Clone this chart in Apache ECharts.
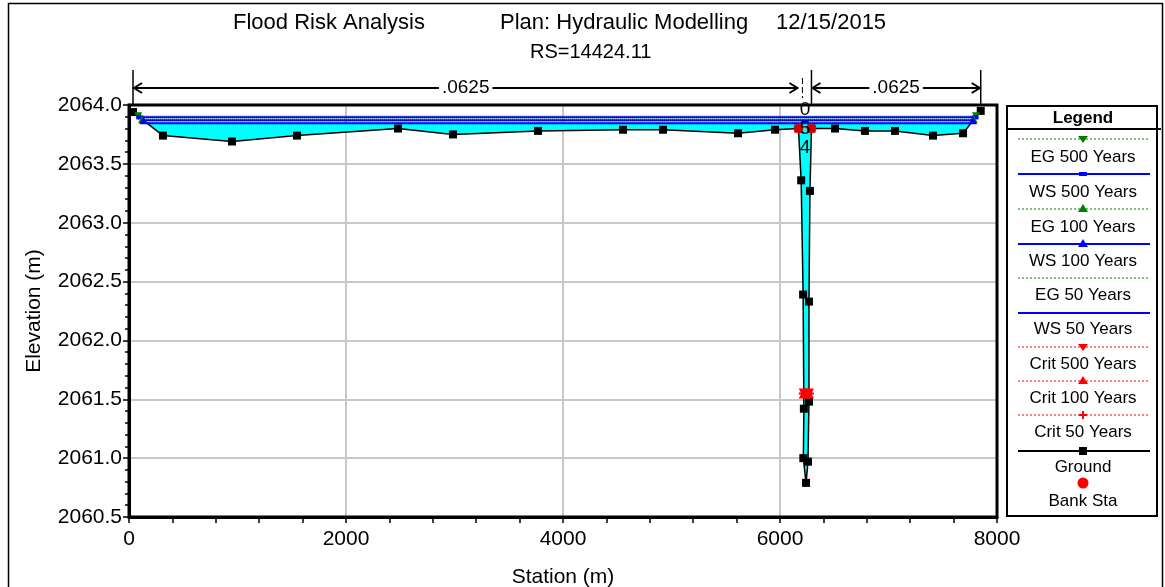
<!DOCTYPE html>
<html><head><meta charset="utf-8">
<script src="https://cdn.jsdelivr.net/npm/echarts@6/dist/echarts.min.js"></script>
<style>html,body{margin:0;padding:0;background:#fff}#c{width:1165px;height:587px}</style>
</head><body><div id="c"></div>
<script>
// ---- data ----
const xTicks = [0, 2000, 4000, 6000, 8000];
const yTicks = [2060.5, 2061.0, 2061.5, 2062.0, 2062.5, 2063.0, 2063.5, 2064.0];
const groundSta  = [37, 313, 949, 1548, 2479, 2986, 3770, 4553, 4922, 5613, 5954, 6170, 6195, 6213, 6220, 6215, 6240, 6258, 6267, 6267, 6276, 6290, 6507, 6783, 7060, 7410, 7687, 7850];
const groundElev = [2063.94, 2063.74, 2063.69, 2063.74, 2063.80, 2063.75, 2063.78, 2063.79, 2063.79, 2063.76, 2063.79, 2063.80, 2063.36, 2062.39, 2061.42, 2061.00, 2060.79, 2060.97, 2061.48, 2062.33, 2063.27, 2063.80, 2063.80, 2063.78, 2063.78, 2063.74, 2063.76, 2063.95];
const bankSta = [6170, 6290];
const bankElev = [2063.80, 2063.80];
const profileNames = ['EG 500 Years', 'WS 500 Years', 'EG 100 Years', 'WS 100 Years', 'EG 50 Years', 'WS 50 Years'];
const profileElev  = [2063.905, 2063.895, 2063.880, 2063.870, 2063.855, 2063.845];
const profileLeft  = [85, 99, 120, 134, 155, 168];
const profileRight = [7806, 7798, 7786, 7778, 7765, 7757];
const critNames = ['Crit 500 Years', 'Crit 100 Years', 'Crit 50 Years'];
const critElev  = [2061.55, 2061.55, 2061.55];
const critLeft  = [6219, 6219, 6219];
const critRight = [6267, 6267, 6267];
const nValues = ['.0625', '.0625'];
const legendNames = ['EG 500 Years', 'WS 500 Years', 'EG 100 Years', 'WS 100 Years', 'EG 50 Years', 'WS 50 Years', 'Crit 500 Years', 'Crit 100 Years', 'Crit 50 Years', 'Ground', 'Bank Sta'];

const FONT = 'Liberation Sans, Arial, sans-serif';
const PLUS = 'path://M4 0H6V4H10V6H6V10H4V6H0V4H4Z';
const green = '#008000', blue = '#0000FF', red = '#FF0000';
const profStyle = [
  {color: green, type: 'dotted', width: 1, symbol: 'triangle', rot: 180},
  {color: blue, type: 'solid', width: 2, symbol: 'rect', rot: 0},
  {color: green, type: 'dotted', width: 1, symbol: 'triangle', rot: 0},
  {color: blue, type: 'solid', width: 2, symbol: 'triangle', rot: 0},
  {color: green, type: 'dotted', width: 1, symbol: 'none', rot: 0},
  {color: blue, type: 'solid', width: 2, symbol: 'none', rot: 0}
];
const critStyle = [
  {symbol: 'triangle', rot: 180}, {symbol: 'triangle', rot: 0}, {symbol: PLUS, rot: 0}
];

const chart = echarts.init(document.getElementById('c'));
const series = [];

// water fill (under lowest water surface)
const fillIdx = profileElev.length - 1;
series.push({
  type: 'custom', name: 'fill', z: 1, clip: true, silent: true,
  data: [[0, 0]],
  renderItem: function (params, api) {
    const e = profileElev[fillIdx];
    const pts = [api.coord([profileLeft[fillIdx], e])];
    for (let i = 1; i < groundSta.length - 1; i++) pts.push(api.coord([groundSta[i], groundElev[i]]));
    pts.push(api.coord([profileRight[fillIdx], e]));
    return {type: 'polygon', shape: {points: pts}, style: {fill: '#00FFFF', stroke: null}};
  }
});

// ground
series.push({
  type: 'line', name: 'Ground', z: 5,
  data: groundSta.map((s, i) => [s, groundElev[i]]),
  lineStyle: {color: '#000', width: 1.5},
  itemStyle: {color: '#000'},
  symbol: 'rect', symbolSize: 8, showAllSymbol: true, animation: false
});

// water surfaces / energy grades
profileNames.forEach((n, i) => {
  const st = profStyle[i];
  series.push({
    type: 'line', name: n, z: 6,
    data: [[profileLeft[i], profileElev[i]], [profileRight[i], profileElev[i]]],
    lineStyle: {color: st.color, width: st.width, type: st.type},
    itemStyle: {color: st.color},
    symbol: st.symbol, symbolSize: st.symbol === 'rect' ? [7, 4] : 8, symbolRotate: st.rot,
    showAllSymbol: true, animation: false
  });
});

// critical depth
critNames.forEach((n, i) => {
  const st = critStyle[i];
  series.push({
    type: 'line', name: n, z: 7,
    data: [[critLeft[i], critElev[i]], [critRight[i], critElev[i]]],
    lineStyle: {color: red, width: 1, type: 'dotted'},
    itemStyle: {color: red},
    symbol: st.symbol, symbolSize: 10, symbolRotate: st.rot,
    showAllSymbol: true, animation: false
  });
});

// bank stations
series.push({
  type: 'scatter', name: 'Bank Sta', z: 8,
  data: bankSta.map((s, i) => [s, bankElev[i]]),
  symbol: 'circle', symbolSize: 10, itemStyle: {color: red}, animation: false
});

const AX_FONT = 21;
chart.setOption({
  animation: false,
  grid: {left: 129, right: 168, top: 105, bottom: 70, show: false, containLabel: false, outerBoundsMode: 'none'},
  xAxis: {
    type: 'value', min: xTicks[0], max: xTicks[xTicks.length - 1], interval: 2000,
    name: 'Station (m)', nameLocation: 'middle', nameGap: 50,
    nameTextStyle: {fontFamily: FONT, fontSize: 21, color: '#000'},
    axisLine: {show: true, onZero: false, lineStyle: {color: '#000', width: 3}},
    axisTick: {show: true, length: 6, lineStyle: {color: '#000', width: 1.5}},
    minorTick: {show: true, splitNumber: 5, length: 6, lineStyle: {color: '#000', width: 1.5}},
    axisLabel: {fontFamily: FONT, fontSize: AX_FONT, color: '#000', margin: 12, formatter: v => String(v)},
    splitLine: {show: true, lineStyle: {color: '#c8c8c8', width: 2}}
  },
  yAxis: {
    type: 'value', min: yTicks[0], max: yTicks[yTicks.length - 1], interval: 0.5,
    name: 'Elevation (m)', nameLocation: 'middle', nameGap: 84, nameRotate: 90,
    nameTextStyle: {fontFamily: FONT, fontSize: 21, color: '#000'},
    axisLine: {show: true, onZero: false, lineStyle: {color: '#000', width: 3}},
    axisTick: {show: true, length: 6, lineStyle: {color: '#000', width: 1.5}},
    minorTick: {show: true, splitNumber: 5, length: 4, lineStyle: {color: '#000', width: 1.5}},
    axisLabel: {fontFamily: FONT, fontSize: AX_FONT, color: '#000', margin: 7, formatter: v => v.toFixed(1)},
    splitLine: {show: true, lineStyle: {color: '#c8c8c8', width: 2}}
  },
  series: series
});

// ---- annotations (frame, n-value bar, titles, legend) ----
const px = (s) => chart.convertToPixel({xAxisIndex: 0}, s);
const py = (e) => chart.convertToPixel({yAxisIndex: 0}, e);
const g = [];
// outer frame
g.push({type: 'rect', shape: {x: 8.5, y: 3.5, width: 1154, height: 600}, style: {fill: null, stroke: '#000', lineWidth: 1.5}, z: 0});
// plot frame
const fx0 = px(xTicks[0]), fx1 = px(xTicks[xTicks.length - 1]);
const fy0 = py(yTicks[yTicks.length - 1]), fy1 = py(yTicks[0]);
g.push({type: 'rect', shape: {x: fx0, y: fy0, width: fx1 - fx0, height: fy1 - fy0}, style: {fill: null, stroke: '#000', lineWidth: 3}, z: 50});
// titles
g.push({type: 'text', left: 233, top: 12, style: {text: 'Flood Risk Analysis', font: '22px ' + FONT, fill: '#000'}});
g.push({type: 'text', left: 500, top: 12, style: {text: 'Plan: Hydraulic Modelling', font: '22px ' + FONT, fill: '#000'}});
g.push({type: 'text', left: 776, top: 12, style: {text: '12/15/2015', font: '22px ' + FONT, fill: '#000'}});
g.push({type: 'text', left: 530, top: 42, style: {text: 'RS=14424.11', font: '20px ' + FONT, fill: '#000'}});

const xL = px(groundSta[0]), xLB = px(bankSta[0]), xRB = px(bankSta[1]), xR = px(groundSta[groundSta.length - 1]);
const yA = 88;
function arrowSeg(x1, x2, label) {
  g.push({type: 'line', shape: {x1: x1 + 2, y1: yA, x2: x2 - 2, y2: yA}, style: {stroke: '#000', lineWidth: 2}, z: 10});
  g.push({type: 'polyline', shape: {points: [[x1 + 9, yA - 5], [x1 + 1, yA], [x1 + 9, yA + 5]]}, style: {stroke: '#000', lineWidth: 2, fill: null}, z: 10});
  g.push({type: 'polyline', shape: {points: [[x2 - 9, yA - 5], [x2 - 1, yA], [x2 - 9, yA + 5]]}, style: {stroke: '#000', lineWidth: 2, fill: null}, z: 10});
  g.push({type: 'text', x: (x1 + x2) / 2, y: yA, style: {text: label, font: '19px ' + FONT, fill: '#000', align: 'center', verticalAlign: 'middle', backgroundColor: '#fff', padding: [0, 3]}, z: 11});
}
arrowSeg(xL, xLB, nValues[0]);
arrowSeg(xRB, xR, nValues[1]);
g.push({type: 'line', shape: {x1: xL, y1: 70, x2: xL, y2: 105}, style: {stroke: '#000', lineWidth: 1.5}});
g.push({type: 'line', shape: {x1: xR, y1: 70, x2: xR, y2: 105}, style: {stroke: '#000', lineWidth: 1.5}});
g.push({type: 'line', shape: {x1: xRB, y1: 70, x2: xRB, y2: 105}, style: {stroke: '#000', lineWidth: 1.5}});
g.push({type: 'line', shape: {x1: xLB + 4, y1: 78, x2: xLB + 4, y2: 98}, style: {stroke: '#000', lineWidth: 1, lineDash: [6, 3]}});
// profile labels inside channel
const chX = (xLB + xRB) / 2;
g.push({type: 'text', x: chX, y: 110, style: {text: '0', font: '19px ' + FONT, fill: '#000', align: 'center', verticalAlign: 'middle'}, z: 60});
g.push({type: 'text', x: chX, y: 129, style: {text: '5', font: '19px ' + FONT, fill: '#000', align: 'center', verticalAlign: 'middle'}, z: 60});
g.push({type: 'text', x: chX, y: 148, style: {text: '4', font: '19px ' + FONT, fill: '#000', align: 'center', verticalAlign: 'middle'}, z: 60});

// legend box
const LX0 = 1007, LX1 = 1157, LCX = 1083;
g.push({type: 'rect', shape: {x: LX0, y: 106, width: LX1 - LX0, height: 410}, style: {fill: '#fff', stroke: '#000', lineWidth: 2}, z: 30});
g.push({type: 'line', shape: {x1: LX0, y1: 129, x2: 1161, y2: 129}, style: {stroke: '#000', lineWidth: 2}, z: 31});
g.push({type: 'text', x: LCX, y: 118, style: {text: 'Legend', font: 'bold 17px ' + FONT, fill: '#000', align: 'center', verticalAlign: 'middle'}, z: 31});
const lineY = [139, 174, 209, 244, 278, 313, 347, 381, 415, 451, 483];
const labY  = [157, 192, 227, 261, 295, 329, 364, 398, 432, 467, 501];
const legSty = [
  {c: green, w: 1, d: [2, 2], m: 'tdown'}, {c: blue, w: 2, d: null, m: 'rect'},
  {c: green, w: 1, d: [2, 2], m: 'tup'}, {c: blue, w: 2, d: null, m: 'tup'},
  {c: green, w: 1, d: [2, 2], m: null}, {c: blue, w: 2, d: null, m: null},
  {c: red, w: 1, d: [2, 2], m: 'tdown'}, {c: red, w: 1, d: [2, 2], m: 'tup'},
  {c: red, w: 1, d: [2, 2], m: 'plus'}, {c: '#000', w: 2, d: null, m: 'square'},
  {c: red, w: 0, d: null, m: 'circle'}
];
legendNames.forEach((n, i) => {
  const s = legSty[i], y = lineY[i];
  if (s.w > 0) g.push({type: 'line', shape: {x1: 1018, y1: y, x2: 1150, y2: y}, style: {stroke: s.c, lineWidth: s.w, lineDash: s.d}, z: 31});
  if (s.m === 'tdown') g.push({type: 'polygon', shape: {points: [[LCX - 5, y - 3], [LCX + 5, y - 3], [LCX, y + 4]]}, style: {fill: s.c}, z: 32});
  if (s.m === 'tup') g.push({type: 'polygon', shape: {points: [[LCX - 5, y + 3], [LCX + 5, y + 3], [LCX, y - 5]]}, style: {fill: s.c}, z: 32});
  if (s.m === 'rect') g.push({type: 'rect', shape: {x: LCX - 4, y: y - 2, width: 8, height: 4}, style: {fill: s.c}, z: 32});
  if (s.m === 'square') g.push({type: 'rect', shape: {x: LCX - 4, y: y - 4, width: 8, height: 8}, style: {fill: s.c}, z: 32});
  if (s.m === 'plus') { g.push({type: 'line', shape: {x1: LCX - 4, y1: y, x2: LCX + 4, y2: y}, style: {stroke: s.c, lineWidth: 2}, z: 32});
                        g.push({type: 'line', shape: {x1: LCX, y1: y - 4, x2: LCX, y2: y + 4}, style: {stroke: s.c, lineWidth: 2}, z: 32}); }
  if (s.m === 'circle') g.push({type: 'circle', shape: {cx: LCX, cy: y, r: 5.5}, style: {fill: s.c}, z: 32});
  g.push({type: 'text', x: LCX, y: labY[i], style: {text: n, font: '17px ' + FONT, fill: '#000', align: 'center', verticalAlign: 'middle'}, z: 31});
});
chart.setOption({graphic: {elements: g}});
</script>
</body></html>
